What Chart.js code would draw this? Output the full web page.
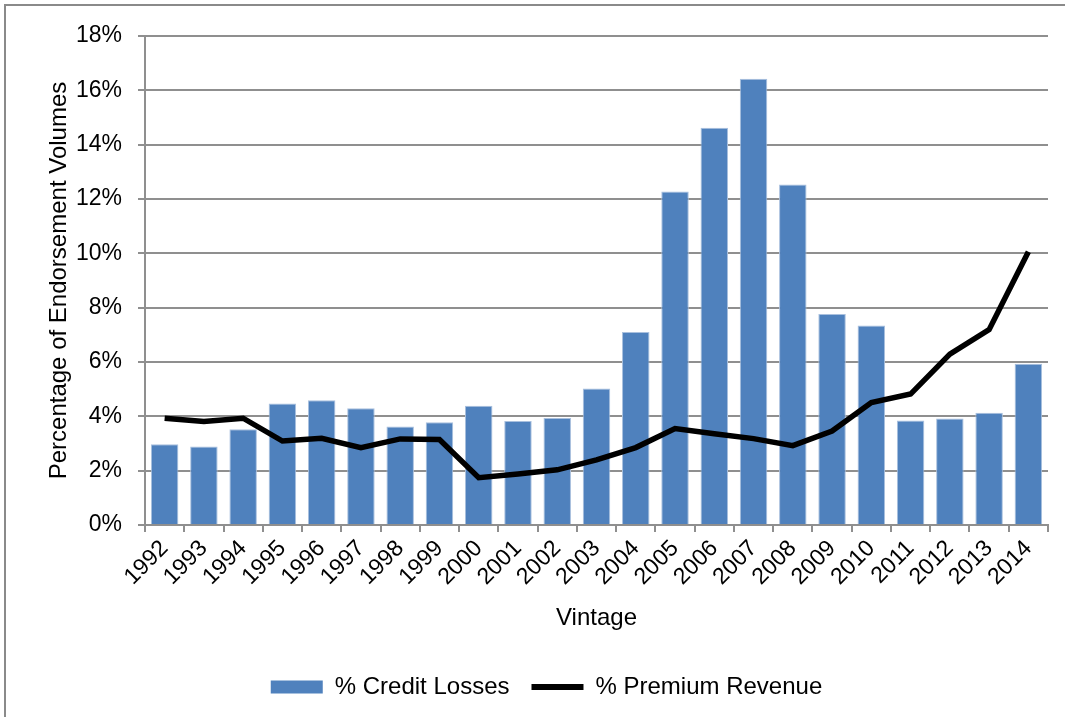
<!DOCTYPE html>
<html>
<head>
<meta charset="utf-8">
<script src="https://cdn.jsdelivr.net/npm/chart.js@4/dist/chart.umd.min.js"></script>
<style>
  html, body { margin: 0; padding: 0; background: #fff; }
  #wrap { width: 1065px; height: 717px; }
</style>
</head>
<body>
<div id="wrap"><canvas id="vintageChart" width="1065" height="717"></canvas></div>
<script>
// Vintage years
const vintages = ['1992', '1993', '1994', '1995', '1996', '1997', '1998', '1999', '2000', '2001', '2002',
    '2003', '2004', '2005', '2006', '2007', '2008', '2009', '2010', '2011', '2012', '2013', '2014'];

// % of endorsement volumes
const creditLosses = [2.97, 2.89, 3.52, 4.47, 4.59, 4.30, 3.63, 3.78, 4.39, 3.83, 3.94,
    5.02, 7.10, 12.28, 14.62, 16.43, 12.53, 7.77, 7.34, 3.85, 3.92, 4.13, 5.94];
const premiumRevenue = [3.93, 3.81, 3.93, 3.09, 3.19, 2.85, 3.17, 3.15, 1.74, 1.88, 2.03,
    2.40, 2.85, 3.55, 3.36, 3.18, 2.92, 3.46, 4.51, 4.82, 6.29, 7.19, 10.06];

const yTicks = { min: 0, max: 18, step: 2 };

Chart.defaults.font.family = '"Liberation Sans", Arial, sans-serif';
Chart.defaults.color = '#000';

const gridGrey = '#8f8f8f';

// Outer frame of the chart object
const framePlugin = {
    id: 'frame',
    beforeDraw(chart) {
        const ctx = chart.ctx;
        ctx.save();
        ctx.fillStyle = '#fff';
        ctx.fillRect(0, 0, chart.width, chart.height);
        ctx.strokeStyle = '#8a8a8a';
        ctx.lineWidth = 2;
        ctx.strokeRect(5, 5, chart.width + 20, chart.height + 20);
        ctx.restore();
    }
};

const ctx = document.getElementById('vintageChart').getContext('2d');
const vintageChart = new Chart(ctx, {
    type: 'bar',
    data: {
        labels: vintages,
        datasets: [
            {
                label: '% Credit Losses',
                data: creditLosses,
                backgroundColor: '#4f81bd',
                borderColor: '#a9c0de',
                borderWidth: 1,
                barPercentage: 0.7,
                categoryPercentage: 1.0,
                order: 2
            },
            {
                type: 'line',
                label: '% Premium Revenue',
                data: premiumRevenue,
                borderColor: '#000',
                backgroundColor: '#000',
                borderWidth: 5.5,
                pointRadius: 0,
                tension: 0,
                order: 1
            }
        ]
    },
    options: {
        responsive: false,
        animation: false,
        layout: { padding: { left: 45, right: 17, top: 36, bottom: 8 } },
        plugins: {
            tooltip: { enabled: false },
            legend: {
                position: 'bottom',
                labels: {
                    font: { size: 24 },
                    color: '#000',
                    usePointStyle: true,
                    pointStyleWidth: 52,
                    boxHeight: 13,
                    padding: 22,
                    generateLabels(chart) {
                        return chart.data.datasets.map((ds, i) => ({
                            text: ds.label,
                            datasetIndex: i,
                            fillStyle: ds.backgroundColor,
                            strokeStyle: ds.borderColor,
                            lineWidth: ds.type === 'line' ? 6 : 0,
                            pointStyle: ds.type === 'line' ? 'line' : 'rect',
                            hidden: false
                        }));
                    }
                }
            }
        },
        scales: {
            x: {
                offset: true,
                grid: {
                    offset: true,
                    drawOnChartArea: false,
                    drawTicks: true,
                    tickLength: 7,
                    color: gridGrey,
                    lineWidth: 2
                },
                border: { color: gridGrey, width: 2 },
                ticks: {
                    font: { size: 23 },
                    maxRotation: 45,
                    minRotation: 45,
                    autoSkip: false,
                    padding: 3
                },
                title: {
                    display: true,
                    text: 'Vintage',
                    font: { size: 24 },
                    padding: { top: 0, bottom: 20 }
                },
                afterFit(scale) { scale.height = 128; }
            },
            y: {
                min: yTicks.min,
                max: yTicks.max,
                grid: {
                    color: gridGrey,
                    lineWidth: 2,
                    tickLength: 7
                },
                border: { color: gridGrey, width: 2 },
                ticks: {
                    stepSize: yTicks.step,
                    font: { size: 23 },
                    padding: 16,
                    callback: v => v + '%'
                },
                title: {
                    display: true,
                    text: 'Percentage of Endorsement Volumes',
                    font: { size: 24 },
                    padding: { top: 0, bottom: 0 }
                },
                afterFit(scale) { scale.width = 100; }
            }
        }
    },
    plugins: [framePlugin]
});
</script>
</body>
</html>
